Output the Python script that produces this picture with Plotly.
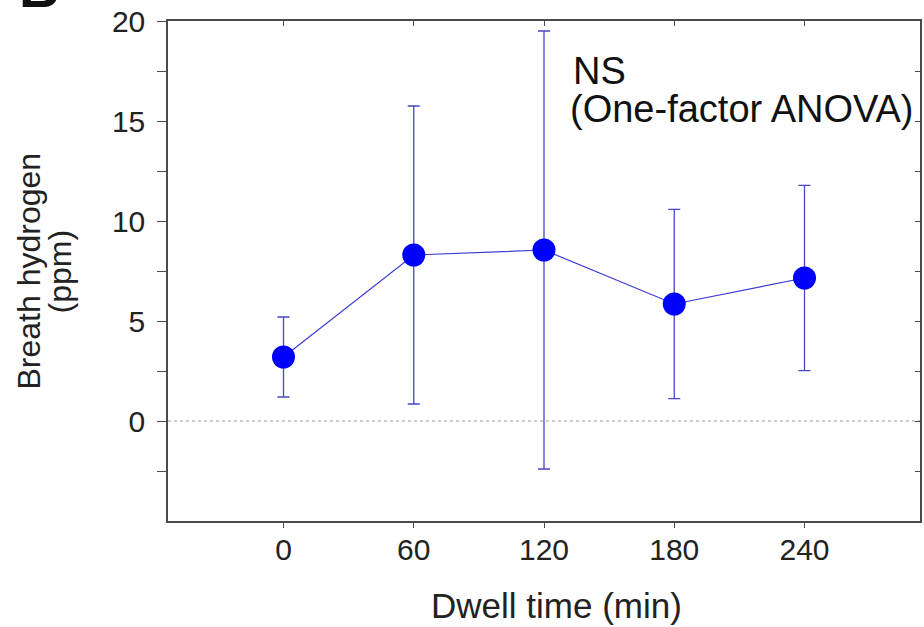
import plotly.graph_objects as go

# Breath hydrogen over dwell time (mean ± error)
dwell_min = [0, 60, 120, 180, 240]
h2_mean = [3.2, 8.3, 8.55, 5.85, 7.15]
h2_err = [2.0, 7.45, 10.95, 4.73, 4.63]
x_ticks = [0, 60, 120, 180, 240]
y_ticks = [0, 5, 10, 15, 20]
y_minor = [-2.5, 2.5, 7.5, 12.5, 17.5]

X_RANGE = [-53.2, 293.2]
Y_RANGE = [-5, 20]
FONT = "Liberation Sans, Arial, sans-serif"
INK = "#222222"
AXIS = "#4a4a4a"

fig = go.Figure()

fig.add_trace(go.Scatter(
    x=dwell_min, y=h2_mean,
    mode="lines+markers",
    line=dict(color="#3a3ad8", width=1.2),
    marker=dict(color="#0000ff", size=23, line=dict(width=0)),
    error_y=dict(type="data", array=h2_err, visible=True,
                 color="#4646c8", thickness=1.3, width=6),
    showlegend=False, hoverinfo="skip",
))
# invisible trace so the top/right axes are drawn
fig.add_trace(go.Scatter(x=[None], y=[None], xaxis="x2", yaxis="y2",
                         showlegend=False, hoverinfo="skip"))

# dotted baseline at zero
fig.add_shape(type="line", xref="paper", yref="y", x0=0, x1=1, y0=0, y1=0,
              line=dict(color="#9a9a9a", width=1.2, dash="dot"), layer="below")

fig.update_layout(
    width=924, height=627,
    margin=dict(l=168, r=4, t=19, b=106),
    paper_bgcolor="white", plot_bgcolor="white",
    font=dict(family=FONT, size=30, color=INK),
    xaxis=dict(range=X_RANGE, tickvals=x_ticks, ticks="outside", ticklen=5,
               tickwidth=1.2, tickcolor=AXIS, showline=True, linecolor=AXIS,
               linewidth=1.5, showgrid=False, zeroline=False,
               ticklabelstandoff=-4,
               tickfont=dict(size=30, color=INK)),
    yaxis=dict(range=Y_RANGE, tickvals=y_ticks, ticks="outside", ticklen=9,
               tickwidth=1.2, tickcolor=AXIS, showline=True, linecolor=AXIS,
               linewidth=1.5, showgrid=False, zeroline=False,
               ticklabelstandoff=6,
               tickfont=dict(size=30, color=INK),
               minor=dict(tickvals=y_minor, ticks="outside",
                          ticklen=9, tickwidth=1.2, tickcolor=AXIS)),
    xaxis2=dict(range=X_RANGE, overlaying="x", side="top", tickvals=x_ticks,
                ticks="inside", ticklen=5, tickwidth=1.2, tickcolor=AXIS,
                showticklabels=False, showline=True, linecolor=AXIS,
                linewidth=1.5, showgrid=False, zeroline=False),
    yaxis2=dict(range=Y_RANGE, overlaying="y", side="right",
                tickvals=sorted(y_ticks + y_minor),
                ticks="inside", ticklen=5, tickwidth=1.2, tickcolor=AXIS,
                showticklabels=False, showline=True, linecolor=AXIS,
                linewidth=1.5, showgrid=False, zeroline=False),
)

fig.add_annotation(text="Dwell time (min)", xref="paper", yref="paper",
                   x=(556 - 168) / 752, y=-0.168, xanchor="center",
                   yanchor="middle", showarrow=False,
                   font=dict(size=35, color=INK))
fig.add_annotation(text="Breath hydrogen", xref="paper", yref="paper",
                   x=-0.1855, y=0.5, xanchor="center", yanchor="middle",
                   textangle=-90, showarrow=False,
                   font=dict(size=32, color=INK))
fig.add_annotation(text="(ppm)", xref="paper", yref="paper",
                   x=-0.143, y=0.5, xanchor="center", yanchor="middle",
                   textangle=-90, showarrow=False,
                   font=dict(size=32, color=INK))
fig.add_annotation(text="NS", xref="paper", yref="paper",
                   x=(571 - 168) / 752, y=1 - (69 - 19) / 502,
                   xanchor="left", yanchor="middle",
                   showarrow=False, font=dict(size=38, color="#111111"))
fig.add_annotation(text="(One-factor ANOVA)", xref="paper", yref="paper",
                   x=(568 - 168) / 752, y=1 - (107 - 19) / 502,
                   xanchor="left", yanchor="middle",
                   showarrow=False, font=dict(size=38, color="#111111"))
fig.add_annotation(text="<b>B</b>", xref="paper", yref="paper",
                   x=-0.172, y=1.0, xanchor="center", yanchor="bottom",
                   showarrow=False, font=dict(size=56, color="#111111"))

fig.write_html("out.html")
